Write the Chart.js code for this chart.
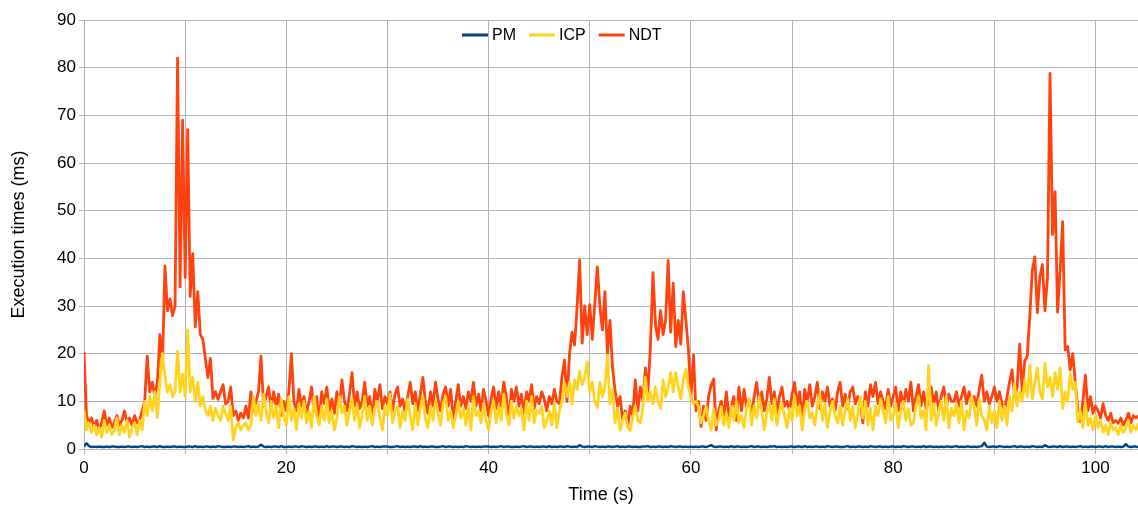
<!DOCTYPE html>
<html>
<head>
<meta charset="utf-8">
<script src="https://cdn.jsdelivr.net/npm/chart.js@4.4.1/dist/chart.umd.min.js"></script>
<style>
  html, body { margin: 0; padding: 0; background: #fff; }
  #wrap { width: 1138px; height: 507px; }
</style>
</head>
<body>
<div id="wrap"><canvas id="timesChart"></canvas></div>
<script>
// one sample every quarter second, starting at t = 0
const sampleStep = 0.25;

const seriesNames = ['PM', 'ICP', 'NDT'];
const seriesColors = ['#004586', '#ffd320', '#ff420e'];

// execution times in ms, 5 seconds per row
const pmTimes = [
  0.5, 1.2, 0.6, 0.4, 0.5, 0.4, 0.5, 0.4, 0.4, 0.5, 0.4, 0.5, 0.5, 0.4, 0.4, 0.5, 0.4, 0.5, 0.5, 0.4,
  0.5, 0.4, 0.5, 0.6, 0.4, 0.5, 0.4, 0.5, 0.5, 0.4, 0.6, 0.4, 0.4, 0.5, 0.4, 0.5, 0.5, 0.4, 0.5, 0.4,
  0.4, 0.5, 0.5, 0.4, 0.6, 0.4, 0.5, 0.4, 0.5, 0.5, 0.4, 0.5, 0.4, 0.6, 0.5, 0.4, 0.4, 0.5, 0.4, 0.5,
  0.5, 0.4, 0.5, 0.4, 0.5, 0.6, 0.4, 0.5, 0.4, 0.5, 0.9, 0.5, 0.4, 0.5, 0.4, 0.5, 0.5, 0.4, 0.6, 0.4,
  0.4, 0.5, 0.4, 0.5, 0.5, 0.4, 0.6, 0.5, 0.4, 0.5, 0.4, 0.5, 0.5, 0.4, 0.5, 0.4, 0.6, 0.4, 0.5, 0.5,
  0.4, 0.5, 0.5, 0.4, 0.5, 0.4, 0.6, 0.5, 0.4, 0.5, 0.4, 0.5, 0.4, 0.5, 0.6, 0.4, 0.5, 0.4, 0.5, 0.5,
  0.5, 0.4, 0.4, 0.5, 0.6, 0.4, 0.5, 0.4, 0.5, 0.4, 0.5, 0.5, 0.4, 0.6, 0.4, 0.5, 0.4, 0.5, 0.5, 0.4,
  0.4, 0.5, 0.6, 0.4, 0.5, 0.5, 0.4, 0.5, 0.4, 0.5, 0.4, 0.6, 0.5, 0.4, 0.5, 0.4, 0.5, 0.4, 0.5, 0.5,
  0.5, 0.4, 0.5, 0.4, 0.5, 0.6, 0.4, 0.5, 0.5, 0.4, 0.4, 0.5, 0.4, 0.5, 0.6, 0.4, 0.5, 0.5, 0.4, 0.5,
  0.4, 0.5, 0.5, 0.4, 0.6, 0.4, 0.5, 0.4, 0.5, 0.5, 0.4, 0.6, 0.5, 0.4, 0.5, 0.4, 0.8, 0.5, 0.4, 0.5,
  0.5, 0.4, 0.6, 0.5, 0.4, 0.5, 0.4, 0.5, 0.5, 0.4, 0.5, 0.6, 0.4, 0.5, 0.4, 0.5, 0.5, 0.4, 0.5, 0.4,
  0.4, 0.5, 0.5, 0.6, 0.4, 0.5, 0.4, 0.5, 0.5, 0.4, 0.5, 0.4, 0.6, 0.5, 0.4, 0.5, 0.5, 0.4, 0.5, 0.4,
  0.5, 0.4, 0.5, 0.4, 0.5, 0.5, 0.4, 0.6, 0.8, 0.5, 0.4, 0.5, 0.5, 0.4, 0.5, 0.4, 0.6, 0.4, 0.5, 0.5,
  0.4, 0.5, 0.4, 0.5, 0.6, 0.4, 0.5, 0.5, 0.4, 0.5, 0.4, 0.5, 0.5, 0.6, 0.4, 0.5, 0.4, 0.5, 0.4, 0.5,
  0.5, 0.4, 0.5, 0.5, 0.4, 0.6, 0.4, 0.5, 0.4, 0.5, 0.5, 0.4, 0.5, 0.4, 0.6, 0.5, 0.4, 0.5, 0.5, 0.4,
  0.4, 0.5, 0.6, 0.4, 0.5, 0.4, 0.5, 0.5, 0.4, 0.5, 0.4, 0.6, 0.5, 0.4, 0.5, 0.5, 0.4, 0.5, 0.4, 0.5,
  0.5, 0.4, 0.5, 0.4, 0.6, 0.5, 0.4, 0.5, 0.5, 0.4, 0.5, 0.4, 0.6, 0.4, 0.5, 0.5, 0.4, 0.5, 0.4, 0.5,
  0.4, 0.5, 0.5, 0.4, 0.5, 0.6, 0.4, 0.5, 0.4, 0.5, 0.5, 0.4, 0.5, 0.4, 0.5, 0.6, 1.3, 0.5, 0.4, 0.5,
  0.5, 0.4, 0.6, 0.5, 0.4, 0.5, 0.4, 0.5, 0.6, 0.4, 0.5, 0.5, 0.4, 0.5, 0.4, 0.6, 0.5, 0.4, 0.5, 0.4,
  0.8, 0.5, 0.4, 0.5, 0.5, 0.4, 0.6, 0.4, 0.5, 0.5, 0.4, 0.5, 0.4, 0.5, 0.6, 0.4, 0.5, 0.4, 0.5, 0.5,
  0.4, 0.5, 0.5, 0.4, 0.6, 0.4, 0.5, 0.5, 0.4, 0.5, 0.4, 0.5, 1.0, 0.5, 0.4, 0.5, 0.5, 0.4
];

const icpTimes = [
  8.2, 4, 5.5, 3.5, 5, 3, 4.5, 2.5, 6, 3.5, 5, 3, 4, 6.5, 3, 5, 3.5, 6, 2.5, 4.5,
  5.5, 3, 6, 4, 10, 7, 11, 8, 12, 6.6, 14, 20, 15.5, 12, 13.5, 11, 12, 20.5, 12, 15.7,
  11, 25, 12, 15, 10, 14, 9, 11, 8, 7, 9, 6, 8.5, 7, 6, 9, 7.5, 6, 9, 1.9,
  4.5, 5.5, 4, 5, 5.5, 4, 5, 11, 7, 9.5, 6, 11.5, 8, 5.5, 10, 6.5, 9, 4.5, 10.5, 7,
  5, 11, 6, 8.5, 4, 9.5, 6.5, 10, 5.5, 8, 4.5, 11, 7, 5, 9, 6, 10.5, 5.5, 8, 4,
  6.5, 11, 7.5, 9, 5, 8, 10.5, 6, 9.5, 4.5, 7, 11, 6, 9, 5, 8.5, 10, 6.5, 4, 9,
  7, 11.5, 5.5, 8, 9, 4.5, 8, 6, 10.5, 7, 4, 9.5, 5, 8.5, 11, 6.5, 4.5, 9, 6, 10,
  7.5, 5, 9.5, 11, 6, 8, 4.5, 7, 10, 6.5, 8.5, 5, 9, 4, 11, 7, 8, 5.5, 9.5, 6,
  4, 8, 10, 5.5, 9, 6, 11.5, 7.5, 5, 10, 6.5, 9, 7, 8.5, 4, 10, 6, 11, 5.5, 8,
  7.5, 9, 4.5, 6, 8, 5, 9.5, 4.5, 8, 10, 13.8, 11, 14, 9.4, 14.5, 12.5, 16.3, 13.5, 15, 18.3,
  12, 14, 10, 8.7, 14, 11, 13, 19.7, 9.5, 12.5, 5.5, 8.5, 3.9, 6, 7.5, 4.5, 3.9, 6.5, 9, 6,
  5.5, 8.5, 15, 10, 12, 9.5, 13, 10, 8.5, 14.5, 11, 13, 16, 12, 16, 13, 10.5, 14.5, 16.7, 13,
  11, 9.5, 10, 8.9, 5.5, 7, 8.9, 6, 3.9, 8.4, 5, 6, 8.9, 5, 7.5, 4.5, 9, 6, 10, 5.5,
  7, 4.5, 8.5, 10.5, 5, 9, 6.5, 11, 8, 4, 7.5, 9.5, 6, 10.5, 5, 8, 9.5, 7, 4.5, 8.5,
  6, 11, 7, 9, 4, 8.5, 10, 6.5, 7.5, 5, 9, 11.5, 6, 9.5, 4.5, 8, 10, 7, 5.5, 9,
  5, 8, 10.5, 6, 9, 4.5, 7.5, 11, 6.5, 10, 5, 8.5, 4, 9, 7, 10.5, 8, 5.5, 11, 6,
  7, 9.5, 4.5, 8, 10, 6, 8.5, 5, 5.5, 9, 11, 6.5, 8, 4, 17.5, 6, 9.5, 5, 8, 10,
  6, 11, 4.5, 8.5, 7, 9.5, 5.5, 10, 4, 8, 6.5, 11, 9, 5, 10.5, 7, 6, 4, 9, 5.5,
  8, 4.5, 10, 6, 9, 5, 11, 8, 13.7, 9, 12, 10, 14.5, 11, 17.6, 10.5, 14, 17, 12, 10.5,
  18, 13, 15, 11, 16, 12.5, 17, 8.5, 12, 10, 15.8, 12.5, 14, 5.7, 8, 4.5, 9.5, 5, 6.5, 4,
  7, 4.5, 6, 3.5, 5, 3, 5.5, 4, 4.5, 3, 5, 3.5, 4.5, 6, 3.5, 5, 4, 5.5
];

const ndtTimes = [
  20.4, 7, 5.5, 6.5, 4.5, 6, 4, 5.5, 8, 5, 6.5, 4.5, 5.5, 7, 5, 6, 8, 5.5, 6.5, 5,
  7, 5.5, 6, 8, 10, 19.5, 12, 14, 11, 14, 24, 17, 38.4, 29, 31.5, 28, 30, 82, 34, 69,
  36, 67, 32, 41, 25.6, 33, 24, 23, 19, 15, 19, 10.6, 12, 10.4, 12, 13.5, 9.4, 10, 13, 7,
  8, 6, 7.5, 6.5, 9, 6.5, 12, 8, 10, 12, 19.5, 9, 11, 13, 8.5, 12, 9, 11.5, 7, 10,
  8, 12, 20, 10, 8, 12.5, 9, 11, 7.5, 10, 13, 8, 11, 5.5, 12, 9.5, 13, 8, 10.5, 7.5,
  12, 9, 14.5, 10, 8, 11.5, 16, 9, 12, 8.5, 10, 14, 9, 11, 6, 12.5, 10, 13.5, 8.5, 11,
  9.5, 12, 8, 11.5, 13, 9, 10.5, 7.5, 11, 14, 9.5, 12, 8, 11.5, 15, 10, 7.5, 12, 9, 14,
  10.5, 8, 11.5, 13, 9, 12.5, 6, 10, 13.5, 9, 11, 8.5, 12, 10, 14, 9, 11.5, 8, 12.5, 10,
  7, 10.5, 13, 8.5, 12, 9, 14, 11, 5.5, 12.5, 10, 13, 9, 11.5, 7.5, 12, 10, 13.5, 8.5, 11,
  9.5, 12, 10.5, 8, 11, 9.5, 12.5, 10, 9.5, 15, 18.7, 10, 20, 24.5, 21.8, 29.9, 39.6, 22.2, 30, 24,
  30.3, 23, 30.5, 38.2, 30, 25, 33, 20, 27, 17, 12.4, 9, 11, 6, 8, 4.7, 9, 7, 14.5, 8,
  13, 10, 17, 12, 21.7, 37, 26, 23, 29, 24, 27, 39.5, 24.5, 34.8, 21.5, 27, 22, 33, 27, 21,
  11, 19.7, 8, 10, 4.7, 9, 6, 11, 13.4, 14.7, 4, 8, 10, 6.5, 12, 7, 9, 11, 6, 13,
  8, 12.5, 9, 10.5, 7, 11, 14, 9, 12, 8, 10.5, 15, 9.5, 12, 7.5, 11, 13, 9, 10, 8,
  11.5, 14, 9, 12, 6, 12.5, 10, 13.5, 9, 11, 14, 8.5, 12, 10, 13, 9, 10.5, 8, 12, 14,
  9, 11.5, 8.5, 12, 13, 9.5, 11, 10, 5.5, 12, 9, 13.5, 11, 14, 9.5, 12, 10, 8.5, 12.5, 9,
  11, 13, 8, 12, 9, 12.5, 10, 14, 8, 11, 13.5, 9, 12, 8.5, 10, 13, 9.5, 12, 8, 11,
  13, 9, 11.5, 10, 10, 12, 9, 11, 13, 9.5, 12, 10, 11, 9, 12.5, 15.5, 10, 12, 9.5, 11,
  13, 10, 12, 9.5, 8, 11, 14, 16.6, 11, 13, 22, 12, 18.5, 19.5, 27.7, 37.5, 40.3, 28.6, 36.2, 38.7,
  29, 36, 78.8, 45, 54, 28.7, 37.5, 47.7, 20.8, 21.5, 16.6, 20, 14, 8.5, 5.7, 10, 15.5, 8, 11, 7.5,
  9, 8, 6.5, 9.5, 7, 6, 7.5, 5.5, 6, 5.4, 6.5, 5, 6, 7.5, 5.5, 7, 6.5, 7
];

const seriesValues = [pmTimes, icpTimes, ndtTimes];
const seriesWidths = [2.5, 2.8, 2.8];

const xMax = 104.2;
const yMax = 90;
const xTitle = 'Time (s)';

const gridColor = '#b3b3b3';
const fontFamily = '"Liberation Sans", Arial, sans-serif';

// legend with short line samples, drawn inside the plot near the top,
// plus the x axis title centred under the whole canvas
const lineLegend = {
  id: 'lineLegend',
  afterDraw(chart) {
    const ctx = chart.ctx;
    ctx.save();
    ctx.font = '16px ' + fontFamily;
    ctx.textBaseline = 'middle';
    let x = 462;
    const y = 35;
    chart.data.datasets.forEach(ds => {
      ctx.strokeStyle = ds.borderColor;
      ctx.lineWidth = 3;
      ctx.beginPath();
      ctx.moveTo(x, y);
      ctx.lineTo(x + 26, y);
      ctx.stroke();
      x += 30;
      ctx.fillStyle = '#000';
      ctx.fillText(ds.label, x, y + 1);
      x += ctx.measureText(ds.label).width + 13;
    });

    ctx.font = '18px ' + fontFamily;
    ctx.textAlign = 'center';
    ctx.fillText(xTitle, 601, chart.height - 12);
    ctx.restore();
  }
};

const datasets = seriesNames.map((name, i) => ({
  label: name,
  data: seriesValues[i].map((v, k) => ({ x: k * sampleStep, y: v })),
  borderColor: seriesColors[i],
  backgroundColor: seriesColors[i],
  borderWidth: seriesWidths[i],
  borderJoinStyle: 'round',
  pointRadius: 0,
  tension: 0,
  fill: false
}));

const ctx = document.getElementById('timesChart').getContext('2d');
new Chart(ctx, {
  type: 'line',
  data: { datasets: datasets },
  options: {
    responsive: true,
    maintainAspectRatio: false,
    animation: false,
    layout: { padding: { top: 20, right: 0, bottom: 0, left: 0 } },
    plugins: {
      legend: { display: false },
      tooltip: { enabled: false }
    },
    scales: {
      x: {
        type: 'linear',
        min: 0,
        max: xMax,
        afterFit(scale) { scale.height = 58; },
        grid: { color: gridColor, tickLength: 5 },
        border: { color: gridColor },
        ticks: {
          stepSize: 10,
          includeBounds: false,
          autoSkip: false,
          maxRotation: 0,
          padding: 4,
          color: '#000',
          font: { family: fontFamily, size: 17 },
          callback: v => (v % 20 === 0 ? String(v) : '')
        },
        title: { display: false }
      },
      y: {
        min: 0,
        max: yMax,
        afterFit(scale) { scale.width = 84; },
        grid: { color: gridColor, tickLength: 5 },
        border: { color: gridColor },
        ticks: {
          stepSize: 10,
          padding: 3,
          color: '#000',
          font: { family: fontFamily, size: 17 }
        },
        title: {
          display: true,
          text: 'Execution times (ms)',
          color: '#000',
          font: { family: fontFamily, size: 18 },
          padding: { top: 8, bottom: 0 }
        }
      }
    }
  },
  plugins: [lineLegend]
});
</script>
</body>
</html>
